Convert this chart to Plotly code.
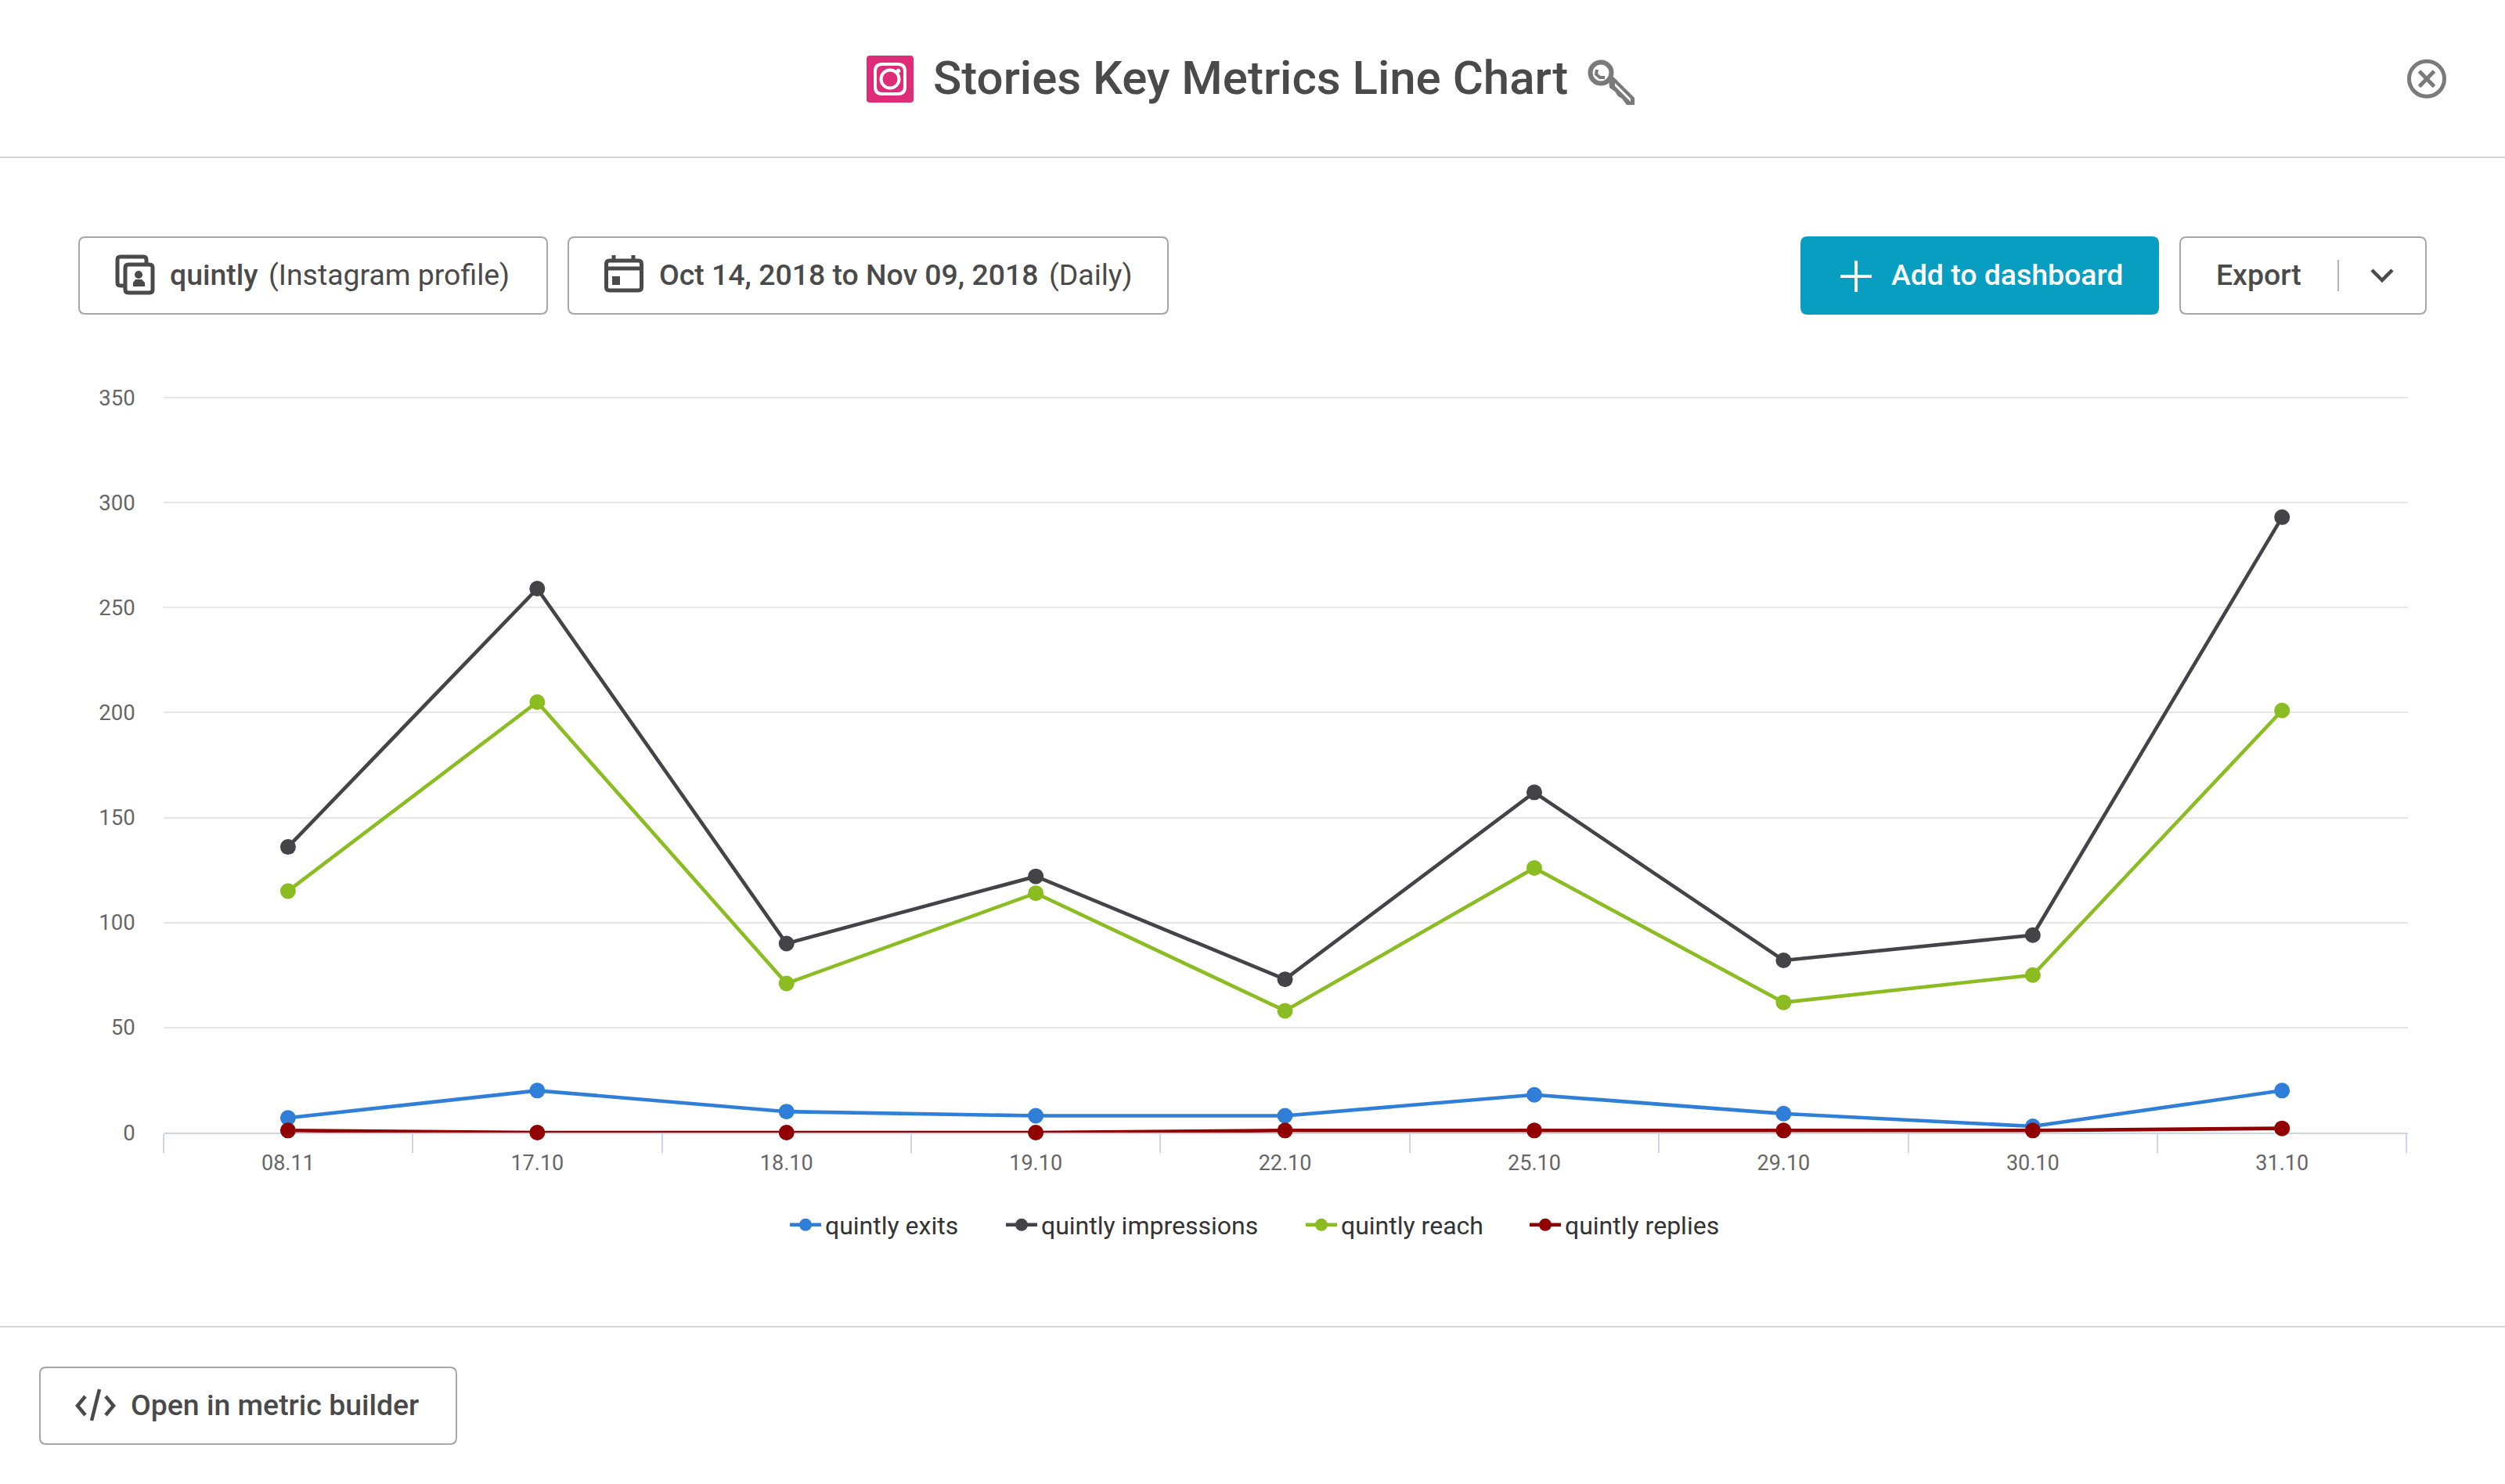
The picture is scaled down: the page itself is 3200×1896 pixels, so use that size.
import plotly.graph_objects as go

W, H = 3200, 1896

categories = ["08.11", "17.10", "18.10", "19.10", "22.10", "25.10", "29.10", "30.10", "31.10"]
exits = [7, 20, 10, 8, 8, 18, 9, 3, 20]
impressions = [136, 259, 90, 122, 73, 162, 82, 94, 293]
reach = [115, 205, 71, 114, 58, 126, 62, 75, 201]
replies = [1, 0, 0, 0, 1, 1, 1, 1, 2]
series_names = ["quintly exits", "quintly impressions", "quintly reach", "quintly replies"]
series_colors = ["#2f7ed8", "#434348", "#8bbc21", "#910000"]
y_ticks = [0, 50, 100, 150, 200, 250, 300, 350]

DARK = "#4a4a4a"
GREY = "#7a7a7a"
BORDER = "#a6a6a6"
RULE = "#d6d6d6"
TEAL = "#089ec1"


def px(x, y):
    return f"{x / W:.6f},{1 - y / H:.6f}"


def poly(points, close=True):
    d = "M" + " L".join(px(x, y) for x, y in points)
    return d + (" Z" if close else "")


def rrect_path(x0, y0, x1, y1, r):
    return (
        f"M{px(x0 + r, y0)} L{px(x1 - r, y0)} Q{px(x1, y0)} {px(x1, y0 + r)} "
        f"L{px(x1, y1 - r)} Q{px(x1, y1)} {px(x1 - r, y1)} "
        f"L{px(x0 + r, y1)} Q{px(x0, y1)} {px(x0, y1 - r)} "
        f"L{px(x0, y0 + r)} Q{px(x0, y0)} {px(x0 + r, y0)} Z"
    )


shapes = []


def path(d, fill=None, line=None, width=0):
    shapes.append(dict(
        type="path", xref="paper", yref="paper", path=d,
        fillcolor=fill if fill else "rgba(0,0,0,0)",
        line=dict(color=line if line else "rgba(0,0,0,0)", width=width),
        layer="above",
    ))


def rrect(x0, y0, x1, y1, r, fill=None, line=None, width=0):
    path(rrect_path(x0, y0, x1, y1, r), fill, line, width)


def seg(points, color, width):
    path(poly(points, close=False), None, color, width)


def circle(cx, cy, r, fill=None, line=None, width=0):
    shapes.append(dict(
        type="circle", xref="paper", yref="paper",
        x0=(cx - r) / W, x1=(cx + r) / W, y0=1 - (cy + r) / H, y1=1 - (cy - r) / H,
        fillcolor=fill if fill else "rgba(0,0,0,0)",
        line=dict(color=line if line else "rgba(0,0,0,0)", width=width),
        layer="above",
    ))


# Rules
seg([(0, 201), (W, 201)], RULE, 2)
seg([(0, 1695), (W, 1695)], RULE, 2)

# Instagram icon
rrect(1107, 71, 1167, 131, 4, fill="#de2c78")
rrect(1118, 82, 1156, 120, 9, line="white", width=4)
circle(1137, 101, 11.5, line="white", width=4)
circle(1147.5, 90.5, 2.8, fill="white")

# Key icon
circle(2045, 93, 13.5, line=GREY, width=6)
path(poly([(2055, 100), (2061, 98), (2088, 125), (2088, 134), (2078, 134),
           (2072, 126), (2067, 123), (2063, 117), (2056, 112)]), fill=GREY)
path(poly([(2063, 106), (2083, 126), (2083, 130), (2063, 110)]), fill="white")
seg([(2040, 89), (2039, 95), (2044, 99), (2050, 99)], GREY, 4)

# Close icon
circle(3100, 100.7, 22.5, line=GREY, width=5)
seg([(3090.5, 91), (3109.5, 110.5)], GREY, 5)
seg([(3109.5, 91), (3090.5, 110.5)], GREY, 5)

# Buttons
rrect(101, 303, 699, 401, 8, fill="white", line=BORDER, width=2)
rrect(726, 303, 1492, 401, 8, fill="white", line=BORDER, width=2)
rrect(2300, 302, 2758, 402, 9, fill=TEAL)
rrect(2785, 303, 3099, 401, 8, fill="white", line=BORDER, width=2)
rrect(51, 1747, 583, 1845, 8, fill="white", line=BORDER, width=2)

# Profile icon
path(rrect_path(150, 328, 187, 365, 4), line=DARK, width=5)
rrect(160, 338, 195, 374, 4, fill="white", line=DARK, width=5)
circle(177, 351, 5, fill=DARK)
path(poly([(170, 366), (170, 361), (173, 357), (181, 357), (185, 361), (185, 366)]), fill=DARK)

# Calendar icon
rrect(774.5, 333, 819.5, 371, 4, line=DARK, width=5)
seg([(774, 343), (820, 343)], DARK, 5)
seg([(784, 326), (784, 333)], DARK, 5)
seg([(809, 326), (809, 333)], DARK, 5)
path(poly([(782, 353), (792, 353), (792, 364), (782, 364)]), fill=DARK)

# Plus
seg([(2351, 353), (2391, 353)], "white", 4)
seg([(2371, 333), (2371, 373)], "white", 4)

# Export divider and chevron
seg([(2987, 332), (2987, 372)], "#9a9a9a", 1.5)
seg([(3030, 345), (3043, 358), (3056, 345)], DARK, 4.5)

# Code icon
seg([(109, 1784), (99, 1796), (109, 1808)], DARK, 4.5)
seg([(135, 1784), (145, 1796), (135, 1808)], DARK, 4.5)
seg([(127, 1775), (117, 1815)], DARK, 4.5)

annotations = []


def label(text, x, y, size, color=DARK, weight=400, anchor="left"):
    annotations.append(dict(
        text=text, x=x / W, y=1 - y / H, xref="paper", yref="paper",
        xanchor=anchor, yanchor="middle", showarrow=False, borderpad=0, borderwidth=0,
        font=dict(family="Roboto", size=size, color=color, weight=weight),
    ))


BTN = 37.4
label("Stories Key Metrics Line Chart", 1192, 99, 60, weight=500)
label("quintly", 217, 351, BTN, weight=500)
label("(Instagram profile)", 343, 351, BTN)
label("Oct 14, 2018 to Nov 09, 2018", 842, 351, BTN, weight=500)
label("(Daily)", 1340, 351, BTN)
label("Add to dashboard", 2416, 351, BTN, color="white", weight=500)
label("Export", 2831, 351, BTN, weight=500)
label("Open in metric builder", 167, 1795, BTN, weight=500)

fig = go.Figure()
legend_ids = ["legend", "legend2", "legend3", "legend4"]
for name, color, values, lg in zip(series_names, series_colors,
                                   [exits, impressions, reach, replies], legend_ids):
    fig.add_trace(go.Scatter(
        x=categories, y=values, name=name, mode="lines+markers", cliponaxis=False,
        legend=lg,
        line=dict(color=color, width=4.6),
        marker=dict(color=color, size=20, symbol="circle", line=dict(width=0)),
    ))

legend_text_starts = [1053, 1329, 1712, 1998]
legends = {}
for lg, start in zip(legend_ids, legend_text_starts):
    legends[lg] = dict(
        orientation="h", x=(start - 49) / W, xanchor="left", y=1 - 1565 / H, yanchor="middle",
        font=dict(family="Roboto", size=32, color="#333333"),
        itemwidth=40, bgcolor="rgba(0,0,0,0)", borderwidth=0,
    )

fig.update_layout(
    width=W, height=H, autosize=False,
    margin=dict(l=0, r=0, t=0, b=0, pad=0),
    paper_bgcolor="white", plot_bgcolor="white",
    font=dict(family="Roboto", color=DARK),
    shapes=shapes, annotations=annotations,
    showlegend=True,
    xaxis=dict(
        domain=[208.7 / W, 3076 / W], type="category", categoryorder="array",
        categoryarray=categories, range=[-0.5, 8.505], fixedrange=True,
        showline=True, linecolor="#ccd6eb", linewidth=2,
        showgrid=False, zeroline=False,
        ticks="outside", tickson="boundaries", ticklen=24, tickwidth=2, tickcolor="#ccd6eb",
        ticklabelstandoff=14,
        tickfont=dict(family="Roboto", size=27, color="#666666"),
        automargin=False, layer="below traces",
    ),
    yaxis=dict(
        domain=[1 - 1447 / H, 1 - 506.6 / H], range=[0, 350.5], fixedrange=True,
        tickmode="array", tickvals=y_ticks, ticktext=[str(v) for v in y_ticks],
        showgrid=True, gridcolor="#e6e6e6", gridwidth=2, zeroline=False, showline=False,
        ticks="", ticklabelstandoff=35,
        tickfont=dict(family="Roboto", size=27.5, color="#666666"),
        automargin=False, layer="below traces",
    ),
    **legends,
)

fig.write_html(
    "out.html",
    config=dict(displayModeBar=False, responsive=False),
    post_script="document.body.style.margin='0';document.body.style.background='white';",
)
